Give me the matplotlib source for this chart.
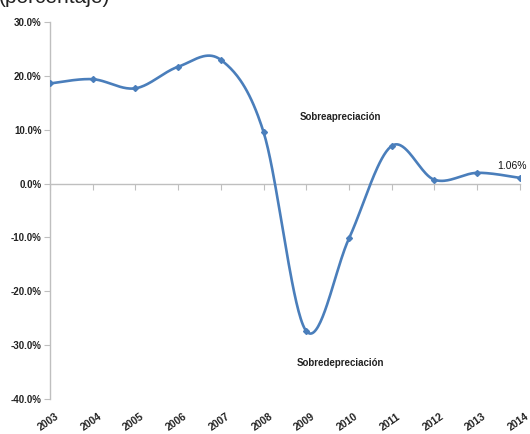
import numpy as np
import matplotlib
matplotlib.use("Agg")
import matplotlib.pyplot as plt
import matplotlib.transforms as mtransforms
from matplotlib.ticker import FuncFormatter

years = ["2003", "2004", "2005", "2006", "2007", "2008", "2009", "2010", "2011", "2012", "2013", "2014"]
values = [18.6, 19.4, 17.7, 21.7, 23.0, 9.6, -27.4, -10.2, 7.0, 0.7, 2.0, 1.06]
yticks = [30, 20, 10, 0, -10, -20, -30, -40]

plt.rcParams['font.family'] = ['Liberation Sans', 'DejaVu Sans']

fig = plt.figure(figsize=(5.30, 4.34), dpi=100)
ax = fig.add_axes([0.094, 0.081, 0.887, 0.868])

x = np.arange(len(years), dtype=float)
y = np.array(values, dtype=float)

# Excel-like smoothing (Catmull-Rom via cubic Bezier)
px = np.concatenate([[x[0]], x, [x[-1]]])
py = np.concatenate([[y[0]], y, [y[-1]]])
sx, sy = [], []
t = np.linspace(0, 1, 40)
for i in range(len(x) - 1):
    p0 = np.array([px[i + 1], py[i + 1]])
    p3 = np.array([px[i + 2], py[i + 2]])
    c1 = p0 + (np.array([px[i + 2], py[i + 2]]) - np.array([px[i], py[i]])) / 6.0
    c2 = p3 - (np.array([px[i + 3], py[i + 3]]) - np.array([px[i + 1], py[i + 1]])) / 6.0
    b = ((1 - t) ** 3)[:, None] * p0 + (3 * (1 - t) ** 2 * t)[:, None] * c1 + \
        (3 * (1 - t) * t ** 2)[:, None] * c2 + (t ** 3)[:, None] * p3
    sx.extend(b[:, 0]); sy.extend(b[:, 1])

color = "#4a7ebb"
ax.plot(sx, sy, color=color, lw=1.9, solid_capstyle='round', zorder=3)
ax.plot(x, y, linestyle='none', marker='D', ms=3, color=color, zorder=4)

ax.set_xlim(0, len(years) - 1)
ax.set_ylim(-40, 30)
ax.set_yticks(yticks)
ax.yaxis.set_major_formatter(FuncFormatter(lambda v, p: f"{v:.1f}%"))

for s in ['top', 'right']:
    ax.spines[s].set_visible(False)
ax.spines['left'].set_color('#bfbfbf')
ax.spines['left'].set_linewidth(1.0)
ax.spines['bottom'].set_position(('data', 0))
ax.spines['bottom'].set_color('#bfbfbf')
ax.spines['bottom'].set_linewidth(1.0)

ax.tick_params(axis='y', direction='out', length=4, color='#bfbfbf', labelsize=7, pad=2)
for lab in ax.get_yticklabels():
    lab.set_fontweight('bold')
    lab.set_color('#222222')

ax.set_xticks(x)
ax.tick_params(axis='x', direction='out', length=4, color='#bfbfbf', labelbottom=False)

sec = ax.secondary_xaxis('bottom')
sec.spines['bottom'].set_visible(False)
sec.set_xticks(x)
sec.set_xticklabels(years)
sec.tick_params(axis='x', length=0, labelsize=7.5, pad=9)
offset = mtransforms.ScaledTranslation(5 / 100, 0, fig.dpi_scale_trans)
for lab in sec.get_xticklabels():
    lab.set_rotation(35)
    lab.set_ha('right')
    lab.set_rotation_mode('anchor')
    lab.set_fontweight('bold')
    lab.set_color('#222222')
    lab.set_transform(lab.get_transform() + offset)

ax.text(6.8, 12.4, "Sobreapreciación", fontsize=7, fontweight='bold', ha='center', va='center', color='#222222')
ax.text(6.8, -33.4, "Sobredepreciación", fontsize=7, fontweight='bold', ha='center', va='center', color='#222222')
ax.text(11.15, 2.3, "1.06%", fontsize=7.5, ha='right', va='bottom', color='#111111')

fig.text(-0.003, 1 - 3 / 434, "(porcentaje)", fontsize=15, ha='left', va='baseline', color='#222222')

fig.savefig("out.png", dpi=100)
